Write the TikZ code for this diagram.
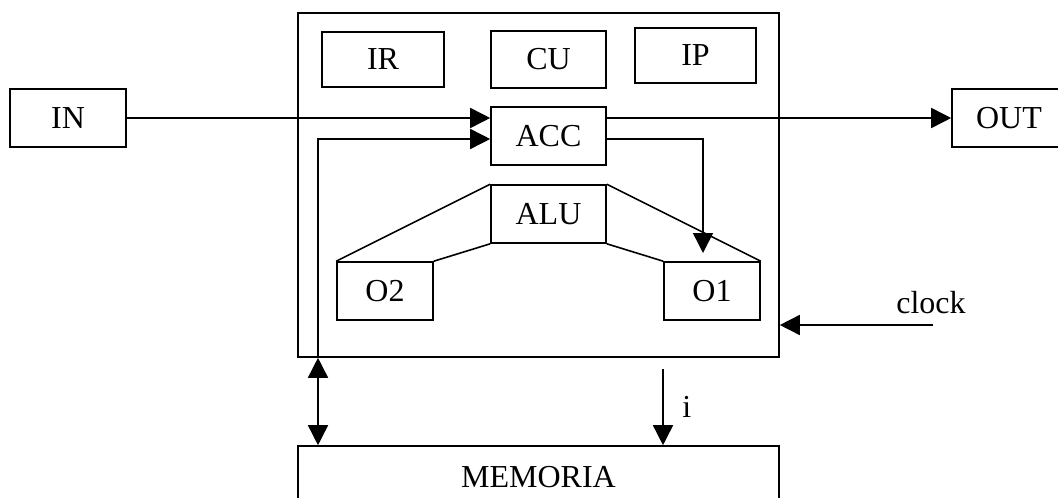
\documentclass[tikz,border=0pt]{standalone}
\usepackage{fontspec}
\setmainfont{Liberation Serif}
\usetikzlibrary{arrows.meta}

\begin{document}
\begin{tikzpicture}[x=0.5pt,y=-0.5pt,line width=0.8pt,
  font=\fontsize{16}{19}\selectfont,
  box/.style={draw,rectangle,inner sep=0pt},
  arr/.style={-{Triangle[length=10pt,width=10pt]}},
  dbl/.style={{Triangle[length=10pt,width=10pt]}-{Triangle[length=10pt,width=10pt]}}]
\useasboundingbox (0,0) rectangle (1058,497);
\node[box,minimum width=240.5pt,minimum height=172pt] (cpu) at (538.5,185) {};
\node[box,minimum width=61pt,minimum height=27.5pt] (ir) at (383,59.5) {IR};
\node[box,minimum width=57.5pt,minimum height=28.5pt] (cu) at (548.5,59.5) {CU};
\node[box,minimum width=60.5pt,minimum height=27.5pt] (ip) at (695.5,55.5) {IP};
\node[box,minimum width=57.5pt,minimum height=29pt] (acc) at (548.5,136) {ACC};
\node[box,minimum width=57.5pt,minimum height=29pt] (alu) at (548.5,214) {ALU};
\node[box,minimum width=48pt,minimum height=29pt] (o2) at (385,291) {O2};
\node[box,minimum width=48pt,minimum height=29pt] (o1) at (712,291) {O1};
\node[box,minimum width=58pt,minimum height=29pt] (in) at (68,118) {IN};
\node[box,minimum width=57pt,minimum height=29pt] (out) at (1009,118) {OUT};
\node[box,minimum width=240.5pt,minimum height=31pt] (mem) at (538.5,477) {MEMORIA};
\node (clock) at (931,303) {clock};
\coordinate (bus) at (318,139);
\coordinate (o1in) at (703,253);
\coordinate (iin) at (663,369);
\coordinate (clk) at (933,325);
\draw (alu.north west) -- (o2.north west);
\draw (alu.south west) -- (o2.north east);
\draw (alu.north east) -- (o1.north east);
\draw (alu.south east) -- (o1.north west);
\draw[arr] (in.east) -- (in -| acc.west);
\draw[arr] (out -| acc.east) -- (out.west);
\draw[arr] (cpu.south -| bus) |- (acc.west |- bus);
\draw[arr] (acc.east |- bus) -| (o1in);
\draw[dbl] (cpu.south -| bus) -- (mem.north -| bus);
\draw[arr] (iin) -- (iin |- mem.north) node[midway,right=6pt] (ilbl) {i};
\draw[arr] (clk) -- (clk -| cpu.east);
\end{tikzpicture}
\end{document}
